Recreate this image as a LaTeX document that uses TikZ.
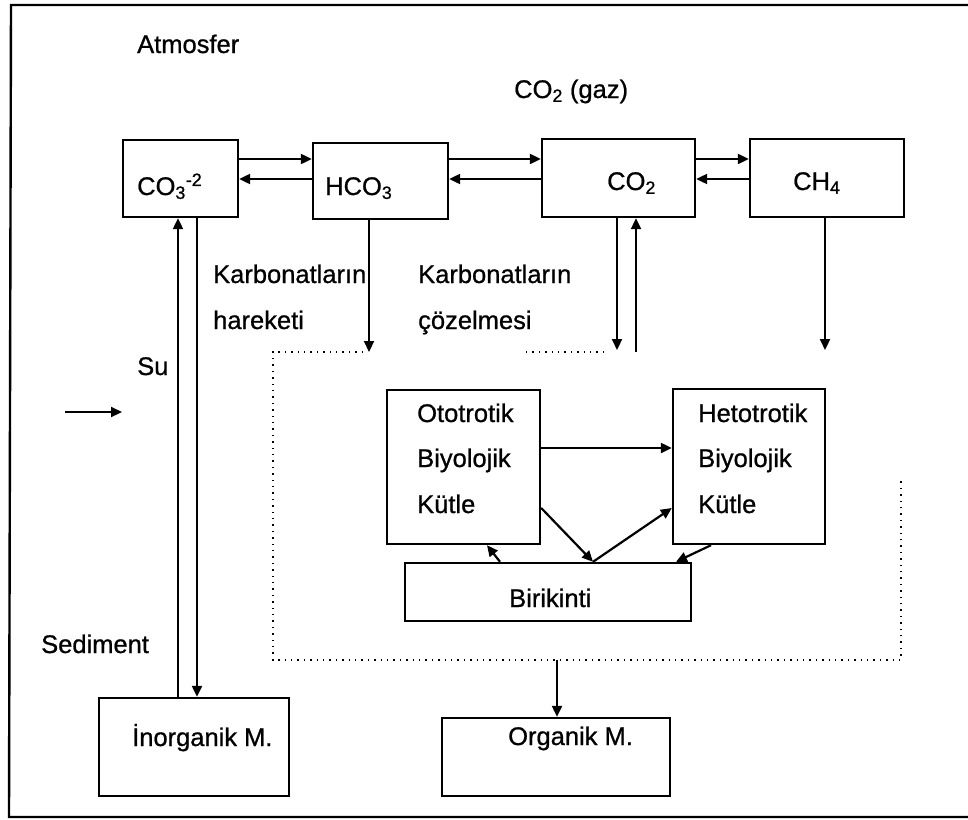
\documentclass[tikz,border=0pt]{standalone}
\usepackage{fontspec}
\setmainfont{Liberation Sans}[FakeBold=0.8]
\usetikzlibrary{arrows.meta}
\begin{document}
\begin{tikzpicture}[x=1pt,y=-1pt,
  box/.style={draw, line width=2.4pt, inner sep=0pt, rectangle},
  lbl/.style={anchor=base west, inner sep=0pt, font=\fontsize{25.5}{28}\selectfont},
  arr/.style={line width=2.2pt, -{Triangle[length=11pt,width=10pt]}},
  dotline/.style={line width=1.4pt, dash pattern=on 1.4pt off 5pt}]
\useasboundingbox (0,0) rectangle (968,819);
% frame (no right edge)
\draw[line width=2.4pt] (968,5) -- (11,5) -- (9,817) -- (968,817);
% boxes
\node[box, minimum width=115pt, minimum height=77pt] (co3) at (180.5,178.5) {};
\node[box, minimum width=135pt, minimum height=76pt] (hco3) at (380.5,181) {};
\node[box, minimum width=153pt, minimum height=78pt] (co2) at (618.5,178) {};
\node[box, minimum width=154pt, minimum height=78pt] (ch4) at (827,178) {};
\node[box, minimum width=153pt, minimum height=154pt] (oto) at (463.5,467) {};
\node[box, minimum width=152pt, minimum height=155pt] (het) at (749,466.5) {};
\node[box, minimum width=286pt, minimum height=58pt] (bir) at (548,592) {};
\node[box, minimum width=190pt, minimum height=98pt] (ino) at (194,747) {};
\node[box, minimum width=228pt, minimum height=78pt] (org) at (556,757) {};
% texts
\node[lbl] (tatm) at (137,53) {Atmosfer};
\node[lbl] (tgaz) at (514,98) {CO\textsubscript{2} (gaz)};
\node[lbl] (tco3) at (137,195) {CO\textsubscript{3}\textsuperscript{-2}};
\node[lbl] (thco3) at (325,195) {HCO\textsubscript{3}};
\node[lbl] (tco2) at (607,190) {CO\textsubscript{2}};
\node[lbl] (tch4) at (793,190) {CH\textsubscript{4}};
\node[lbl] (tk1) at (213,283) {Karbonatların};
\node[lbl] (th1) at (213,329) {hareketi};
\node[lbl] (tk2) at (418,283) {Karbonatların};
\node[lbl] (tc2) at (418,329) {çözelmesi};
\node[lbl] (tsu) at (137,375) {Su};
\node[lbl] (to1) at (417,422) {Ototrotik};
\node[lbl] (to2) at (417,467) {Biyolojik};
\node[lbl] (to3) at (417,513) {Kütle};
\node[lbl] (te1) at (698,422) {Hetotrotik};
\node[lbl] (te2) at (698,467) {Biyolojik};
\node[lbl] (te3) at (698,513) {Kütle};
\node[lbl] (tbir) at (509,607) {Birikinti};
\node[lbl] (tsed) at (41,653) {Sediment};
\node[lbl] (tino) at (132,746) {İnorganik M.};
\node[lbl] (torg) at (508,745) {Organik M.};
% helper coordinates
\coordinate (ya) at (0,159);
\coordinate (yb) at (0,179);
\coordinate (xl) at (178,0);
\coordinate (xr) at (197,0);
\coordinate (h1) at (369,352);
\coordinate (c1) at (617,350);
\coordinate (c2) at (636,352);
\coordinate (m1) at (825,350);
\coordinate (a1) at (65,412);
\coordinate (a2) at (122,412);
\coordinate (o1) at (557,660);
% top row arrows
\draw[arr] (co3.east |- ya) -- (hco3.west |- ya);
\draw[arr] (hco3.west |- yb) -- (co3.east |- yb);
\draw[arr] (hco3.east |- ya) -- (co2.west |- ya);
\draw[arr] (co2.west |- yb) -- (hco3.east |- yb);
\draw[arr] (co2.east |- ya) -- (ch4.west |- ya);
\draw[arr] (ch4.west |- yb) -- (co2.east |- yb);
% verticals
\draw[arr] (ino.north -| xl) -- (co3.south -| xl);
\draw[arr] (co3.south -| xr) -- (ino.north -| xr);
\draw[arr] (hco3.south -| h1) -- (h1);
\draw[arr] (co2.south -| c1) -- (c1);
\draw[arr] (c2) -- (co2.south -| c2);
\draw[arr] (ch4.south -| m1) -- (m1);
\draw[arr] (a1) -- (a2);
\draw[arr] (o1) -- (org.north -| o1);
% biology arrows
\draw[arr] (oto.east |- 0,448) -- (het.west |- 0,448);
\draw[arr] (oto.east |- 0,508) -- (bir.north -| 593,0);
\draw[arr] (bir.north -| 593,0) -- (het.west |- 0,508);
\draw[arr] (bir.north -| 500,0) -- (oto.south -| 487,0);
\draw[arr] (het.south -| 711,0) -- (bir.north -| 676,0);
% dotted region
\draw[dotline] (363,352) -- (273,352) -- (273,660) -- (901,660) -- (901,478);
\draw[dotline] (526,352) -- (607,352);
\end{tikzpicture}
\end{document}
